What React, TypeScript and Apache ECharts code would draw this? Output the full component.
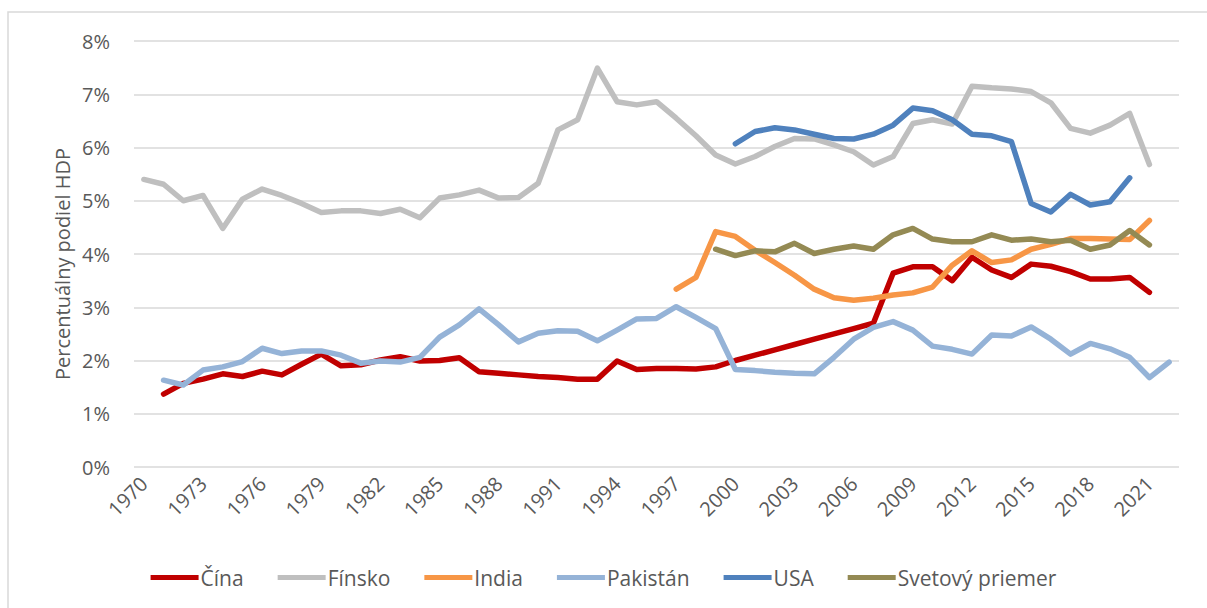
import React, { useEffect, useRef } from "react";
import * as echarts from "echarts";

const years = [
  "1970", "1971", "1972", "1973", "1974", "1975", "1976", "1977", "1978", "1979",
  "1980", "1981", "1982", "1983", "1984", "1985", "1986", "1987", "1988", "1989",
  "1990", "1991", "1992", "1993", "1994", "1995", "1996", "1997", "1998", "1999",
  "2000", "2001", "2002", "2003", "2004", "2005", "2006", "2007", "2008", "2009",
  "2010", "2011", "2012", "2013", "2014", "2015", "2016", "2017", "2018", "2019",
  "2020", "2021", "2022",
];

// values in % of GDP, listed from their first year
const cinaStart = 1971;
const cina = [
  1.37, 1.57, 1.65, 1.75, 1.70, 1.80, 1.73, 1.93, 2.12, 1.90,
  1.92, 2.01, 2.07, 1.99, 2.00, 2.05, 1.79, 1.76, 1.73, 1.70,
  1.68, 1.65, 1.65, 1.99, 1.83, 1.85, 1.85, 1.84, 1.88, 2.00,
  2.10, 2.20, 2.30, 2.40, 2.50, 2.60, 2.70, 3.64, 3.76, 3.76,
  3.50, 3.94, 3.70, 3.56, 3.81, 3.77, 3.67, 3.53, 3.53, 3.56,
  3.28,
];

const finskoStart = 1970;
const finsko = [
  5.40, 5.31, 5.00, 5.10, 4.48, 5.03, 5.22, 5.10, 4.95, 4.78,
  4.81, 4.81, 4.76, 4.84, 4.68, 5.05, 5.11, 5.20, 5.05, 5.06,
  5.33, 6.33, 6.52, 7.49, 6.86, 6.80, 6.86, 6.55, 6.22, 5.86,
  5.69, 5.83, 6.02, 6.17, 6.16, 6.05, 5.92, 5.67, 5.83, 6.45,
  6.52, 6.44, 7.15, 7.12, 7.10, 7.05, 6.84, 6.36, 6.27, 6.42,
  6.64, 5.68,
];

const indiaStart = 1997;
const india = [
  3.34, 3.56, 4.42, 4.33, 4.07, 3.84, 3.60, 3.34, 3.18, 3.13,
  3.17, 3.23, 3.27, 3.38, 3.79, 4.06, 3.84, 3.89, 4.09, 4.18,
  4.29, 4.29, 4.28, 4.27, 4.63,
];

const pakistanStart = 1971;
const pakistan = [
  1.63, 1.54, 1.82, 1.88, 1.98, 2.23, 2.13, 2.18, 2.18, 2.10,
  1.95, 1.99, 1.97, 2.06, 2.44, 2.67, 2.97, 2.67, 2.35, 2.51,
  2.56, 2.55, 2.37, 2.57, 2.78, 2.79, 3.01, 2.81, 2.60, 1.83,
  1.81, 1.78, 1.76, 1.75, 2.06, 2.40, 2.62, 2.73, 2.57, 2.27,
  2.21, 2.12, 2.48, 2.46, 2.63, 2.40, 2.12, 2.32, 2.22, 2.06,
  1.68, 1.97,
];

const usaStart = 2000;
const usa = [
  6.07, 6.30, 6.37, 6.33, 6.25, 6.17, 6.16, 6.25, 6.42, 6.74,
  6.69, 6.52, 6.25, 6.22, 6.11, 4.95, 4.79, 5.12, 4.92, 4.98,
  5.43,
];

const svetStart = 1999;
const svet = [
  4.09, 3.97, 4.06, 4.04, 4.20, 4.01, 4.09, 4.15, 4.09, 4.36,
  4.48, 4.28, 4.23, 4.23, 4.36, 4.26, 4.28, 4.23, 4.26, 4.09,
  4.17, 4.44, 4.17,
];

const yTicks = [0, 1, 2, 3, 4, 5, 6, 7, 8];
const yTitle = "Percentuálny podiel HDP";

const seriesDefs = [
  { name: "Čína", start: cinaStart, values: cina, color: "#C00000" },
  { name: "Fínsko", start: finskoStart, values: finsko, color: "#BFBFBF" },
  { name: "India", start: indiaStart, values: india, color: "#F79646" },
  { name: "Pakistán", start: pakistanStart, values: pakistan, color: "#95B3D7" },
  { name: "USA", start: usaStart, values: usa, color: "#4F81BD" },
  { name: "Svetový priemer", start: svetStart, values: svet, color: "#948A54" },
];

function align(start: number, values: number[]) {
  return years.map((y) => {
    const i = Number(y) - start;
    return i >= 0 && i < values.length ? values[i] : null;
  });
}

const FONT = "Open Sans";
const TEXT = "#595959";
const FS = 20;

export default function App() {
  const ref = useRef<HTMLDivElement>(null);
  useEffect(() => {
    document.body.style.margin = "0";
    const chart = echarts.init(ref.current!, null, { renderer: "svg" });
    chart.setOption({
      animation: false,
      backgroundColor: "#ffffff",
      textStyle: { fontFamily: FONT },
      graphic: [
        {
          type: "rect",
          shape: { x: 8, y: 12, width: 1220, height: 620 },
          style: { fill: "none", stroke: "#d9d9d9", lineWidth: 1.5 },
          silent: true,
        },
        {
          type: "text",
          x: 62,
          y: 264,
          rotation: Math.PI / 2,
          style: {
            text: yTitle,
            fontFamily: FONT,
            fontSize: FS,
            fill: TEXT,
            align: "center",
            verticalAlign: "middle",
          },
          silent: true,
        },
      ],
      grid: { left: 134, right: 28, top: 41, bottom: 141, containLabel: false },
      legend: {
        top: 562,
        left: "center",
        icon: "rect",
        itemWidth: 48,
        itemHeight: 5,
        itemGap: 34,
        textStyle: { fontFamily: FONT, fontSize: FS + 1, color: TEXT, padding: [0, 0, 0, -3] },
        data: seriesDefs.map((s) => s.name),
      },
      xAxis: {
        type: "category",
        data: years,
        boundaryGap: true,
        axisLine: { show: false },
        axisTick: { show: false },
        axisLabel: {
          interval: 2,
          rotate: 45,
          fontFamily: FONT,
          fontSize: FS,
          color: TEXT,
          margin: 13,
        },
      },
      yAxis: {
        type: "value",
        min: yTicks[0],
        max: yTicks[yTicks.length - 1],
        interval: 1,
        axisLine: { show: false },
        axisTick: { show: false },
        axisLabel: {
          formatter: "{value}%",
          fontFamily: FONT,
          fontSize: FS,
          color: TEXT,
          margin: 24,
        },
        splitLine: { lineStyle: { color: "#D9D9D9", width: 1.5 } },
      },
      series: seriesDefs.map((s) => ({
        name: s.name,
        type: "line",
        data: align(s.start, s.values),
        symbol: "none",
        connectNulls: false,
        color: s.color,
        lineStyle: { color: s.color, width: 5.5, cap: "round", join: "round" },
      })),
    });
    return () => chart.dispose();
  }, []);
  return <div ref={ref} style={{ width: 1207, height: 608 }} />;
}
